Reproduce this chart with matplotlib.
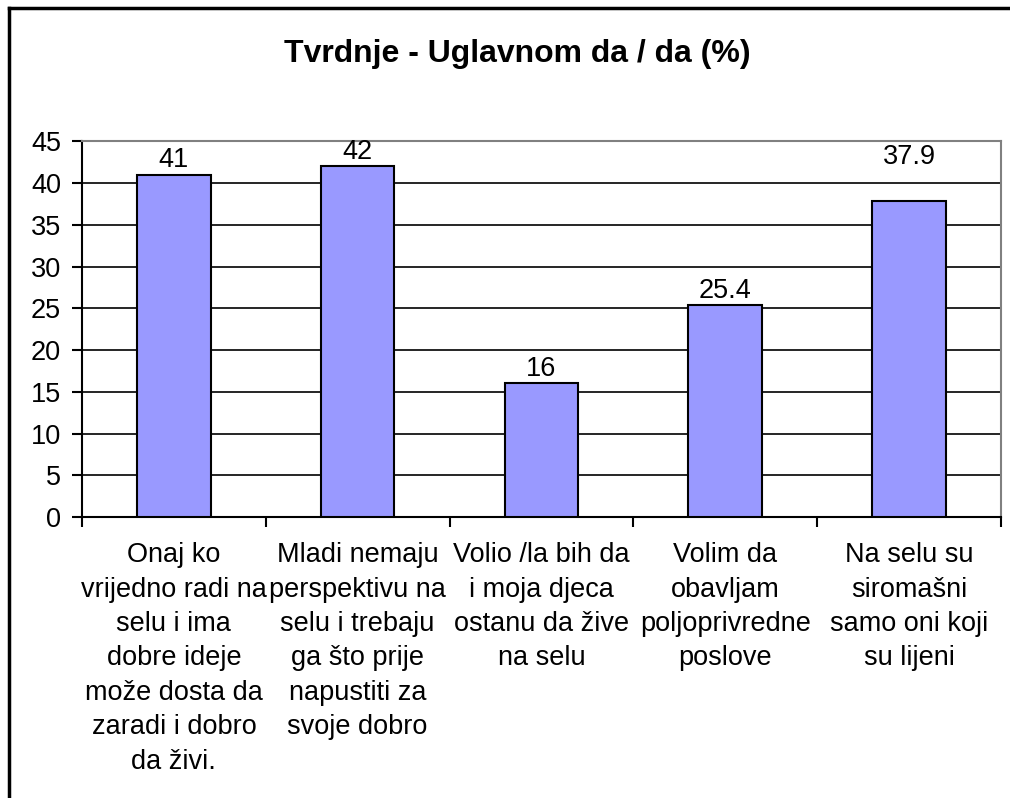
"""Tvrdnje - Uglavnom da / da (%) bar chart."""
import matplotlib

matplotlib.use("Agg")
import matplotlib.pyplot as plt  # noqa: E402
from matplotlib.lines import Line2D  # noqa: E402

CATEGORIES = [
    "Onaj ko\nvrijedno radi na\nselu i ima\ndobre ideje\nmože dosta da\nzaradi i dobro\nda živi.",
    "Mladi nemaju\nperspektivu na\nselu i trebaju\nga što prije\nnapustiti za\nsvoje dobro",
    "Volio /la bih da\ni moja djeca\nostanu da žive\nna selu",
    "Volim da\nobavljam\npoljoprivredne\nposlove",
    "Na selu su\nsiromašni\nsamo oni koji\nsu lijeni",
]
VALUES = [41, 42, 16, 25.4, 37.9]
VALUE_LABELS = ["41", "42", "16", "25.4", "37.9"]
Y_TICKS = list(range(0, 46, 5))

plt.rcParams["font.family"] = ["Liberation Sans", "DejaVu Sans"]
FS = 19.5

fig = plt.figure(figsize=(10.10, 7.98), dpi=100)
ax = fig.add_axes([0.0812, 0.352, 0.9098, 0.471])

x = list(range(len(VALUES)))
bars = ax.bar(x, VALUES, 0.40, color="#9999FF", edgecolor="black", linewidth=1.5, zorder=3)

# Excel put the last label up near the top of the plot
label_offsets = [1, 1, 1, 1, 22]
for rect, lab, off in zip(bars, VALUE_LABELS, label_offsets):
    ax.annotate(
        lab, (rect.get_x() + rect.get_width() / 2, rect.get_height()),
        textcoords="offset points", xytext=(0, off), ha="center", va="bottom",
        fontsize=FS,
    )

ax.set_xlim(-0.5, len(VALUES) - 0.5)
ax.set_ylim(0, 45)
ax.set_yticks(Y_TICKS)
ax.set_yticklabels([str(t) for t in Y_TICKS], fontsize=FS)
for t in Y_TICKS[1:-1]:
    ax.axhline(t, color="black", linewidth=1.2, zorder=1)

ax.set_xticks(x)
ax.set_xticklabels(CATEGORIES, fontsize=FS, linespacing=1.42, va="top")
ax.set_xticks([i - 0.5 for i in range(len(VALUES) + 1)], minor=True)
ax.tick_params(axis="x", which="major", length=0, pad=18)
ax.tick_params(axis="x", which="minor", length=7, width=1.5, direction="out")
ax.tick_params(axis="y", length=7, width=1.5, direction="out", pad=8)

for side in ("left", "bottom"):
    ax.spines[side].set_color("black")
    ax.spines[side].set_linewidth(1.5)
for side in ("top", "right"):
    ax.spines[side].set_color("#808080")
    ax.spines[side].set_linewidth(1.5)

fig.text(0.512, 0.932, "Tvrdnje - Uglavnom da / da (%)", ha="center", va="center",
         fontsize=23, fontweight="bold")

# chart frame (only top and left edges are visible in the crop)
fig.add_artist(Line2D([9 / 1010, 9 / 1010], [0, 1 - 8 / 798], color="black", linewidth=2.5,
                      transform=fig.transFigure))
fig.add_artist(Line2D([9 / 1010, 1], [1 - 8 / 798, 1 - 8 / 798], color="black", linewidth=2.5,
                      transform=fig.transFigure))

fig.savefig("out.png", dpi=100)
